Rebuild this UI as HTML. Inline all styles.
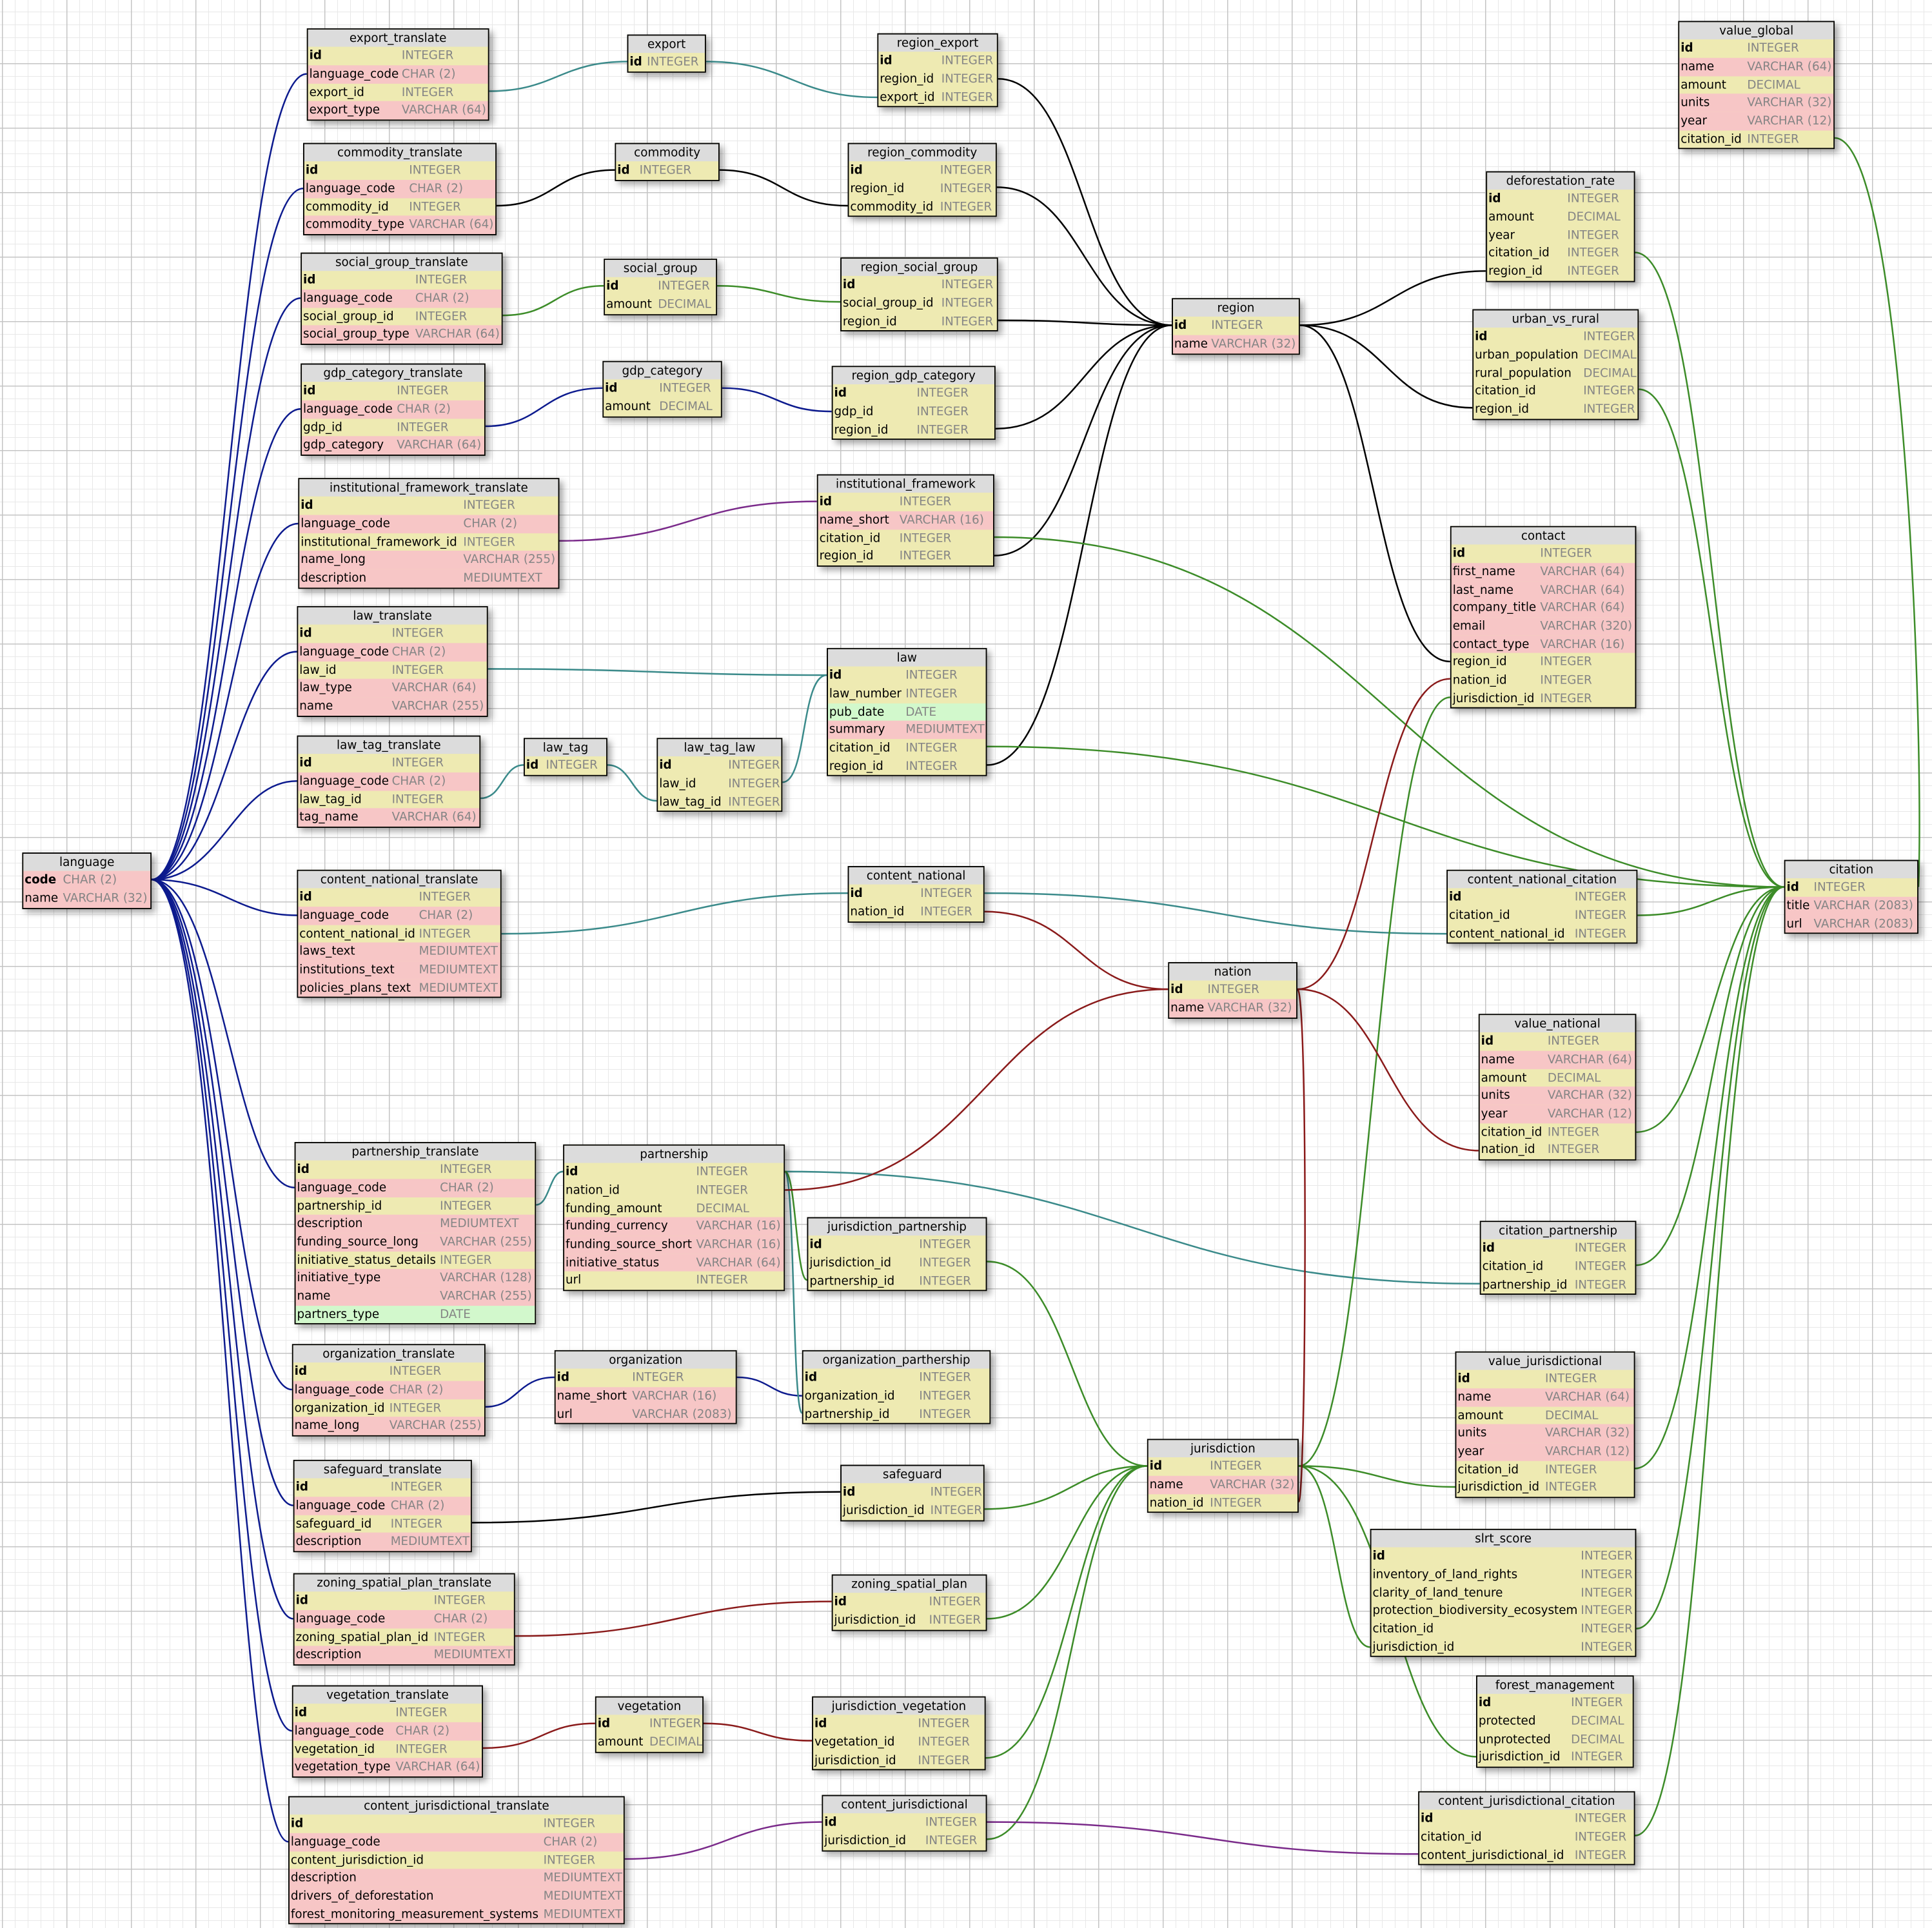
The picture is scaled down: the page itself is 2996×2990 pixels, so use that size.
<!DOCTYPE html>
<html><head><meta charset="utf-8">
<style>
html,body{margin:0;padding:0}
body{width:2996px;height:2990px;overflow:hidden;background-color:#fff;
background-image:
linear-gradient(to right,#c4c4c4 1.5px,transparent 1.5px),
linear-gradient(to bottom,#c4c4c4 1.5px,transparent 1.5px),
linear-gradient(to right,#e8e8e8 1px,transparent 1px),
linear-gradient(to bottom,#e8e8e8 1px,transparent 1px);
background-size:100px 100px,100px 100px,20px 20px,20px 20px;
background-position:3px -2px,3px -2px,3px -2px,3px -2px;}
#s{position:absolute;left:0;top:0;width:1568px;height:1565px;transform:scale(1.9107,1.9105);transform-origin:0 0}
svg{position:absolute;left:0;top:0}
path{fill:none;stroke-width:1.3}
.t{position:absolute;box-sizing:border-box;border:1px solid #000;border-width:1.5px 1.5px 1.5px 1px;background:#eeeab2;box-shadow:3px 3px 5px rgba(0,0,0,.35);font:9.6px "DejaVu Sans","Liberation Sans",sans-serif;color:#000;white-space:nowrap}
.t b{display:block;height:14.2px;line-height:15.6px;text-align:center;background:#dcdcdc;font-weight:normal;overflow:hidden}
.t p{margin:0;height:14.7px;line-height:16.4px;position:relative;padding-left:1px;overflow:hidden}
.t p s{text-decoration:none;position:absolute;left:var(--o);top:0;color:#858585}
.y{background:#eeeab2}.p{background:#f7c6c6}.g{background:#d2f8cc}
.k i{font-weight:bold}
.t i{font-style:normal}
</style></head><body><div id="s">
<svg width="1568" height="1565" viewBox="0 0 1568 1565">
<g stroke="#0c1a8e">
<path d="M123 714 C180 714 190 60 249 60"/>
<path d="M123 714 C180 714 190 153 246 153"/>
<path d="M123 714 C180 714 190 242 244 242"/>
<path d="M123 714 C180 714 190 332 244 332"/>
<path d="M123 714 C180 714 190 425 242 425"/>
<path d="M123 714 C180 714 190 529 241 529"/>
<path d="M123 714 C180 714 190 634 241 634"/>
<path d="M123 714 C180 714 190 743 241 743"/>
<path d="M123 714 C180 714 190 964 239 964"/>
<path d="M123 714 C180 714 190 1128 237 1128"/>
<path d="M123 714 C180 714 190 1222 238 1222"/>
<path d="M123 714 C180 714 190 1314 238 1314"/>
<path d="M123 714 C180 714 190 1405 237 1405"/>
<path d="M123 714 C180 714 190 1495 234 1495"/>
<path d="M394 346 C440 346 440 315 489 315"/>
<path d="M586 315 C630 315 630 334 675 334"/>
<path d="M394 1142 C420 1142 420 1118 450 1118"/>
<path d="M598 1118 C625 1118 625 1133 651 1133"/>
</g>
<g stroke="#3a8a8a">
<path d="M397 74 C450 74 455 50 509 50"/>
<path d="M573 50 C640 50 645 79 712 79"/>
<path d="M396 543 C530 543 540 548 671 548"/>
<path d="M390 648 C408 648 408 621 425 621"/>
<path d="M493 621 C513 621 513 650 533 650"/>
<path d="M635 635 C655 635 650 548 671 548"/>
<path d="M407 758 C550 758 550 725 688 725"/>
<path d="M799 725 C990 725 990 758 1174 758"/>
<path d="M435 978 C446 978 446 951 457 951"/>
<path d="M637 951 C920 951 920 1042 1201 1042"/>
<path d="M637 951 C645 951 643 1147 651 1147"/>
</g>
<g stroke="#000">
<path d="M403 167 C450 167 450 138 499 138"/>
<path d="M584 138 C635 138 635 167 688 167"/>
<path d="M810 64 C880 64 880 264 951 264"/>
<path d="M809 152 C880 152 880 264 951 264"/>
<path d="M810 260 C880 260 880 264 951 264"/>
<path d="M808 348 C880 348 880 264 951 264"/>
<path d="M807 451 C880 451 880 264 951 264"/>
<path d="M801 621 C880 621 880 264 951 264"/>
<path d="M1055 264 C1130 264 1130 220 1206 220"/>
<path d="M1055 264 C1125 264 1125 331 1195 331"/>
<path d="M1055 264 C1115 264 1115 537 1177 537"/>
<path d="M383 1236 C530 1236 530 1211 682 1211"/>
</g>
<g stroke="#3c8c28">
<path d="M408 256 C450 256 450 232 490 232"/>
<path d="M582 232 C630 232 630 245 682 245"/>
<path d="M807 436 C1130 436 1130 720 1448 720"/>
<path d="M801 606 C1130 606 1130 720 1448 720"/>
<path d="M1489 112 C1545 112 1562 600 1557 720"/>
<path d="M1327 205 C1390 205 1390 720 1448 720"/>
<path d="M1330 316 C1390 316 1390 720 1448 720"/>
<path d="M1329 743 C1390 743 1390 720 1448 720"/>
<path d="M1328 919 C1390 919 1390 720 1448 720"/>
<path d="M1328 1027 C1390 1027 1390 720 1448 720"/>
<path d="M1327 1192 C1390 1192 1390 720 1448 720"/>
<path d="M1328 1322 C1390 1322 1390 720 1448 720"/>
<path d="M1327 1490 C1390 1490 1390 720 1448 720"/>
<path d="M1177 566 C1115 566 1115 1190 1054 1190"/>
<path d="M801 1024 C870 1024 870 1190 931 1190"/>
<path d="M799 1225 C870 1225 870 1190 931 1190"/>
<path d="M801 1314 C870 1314 870 1190 931 1190"/>
<path d="M800 1427 C870 1427 870 1190 931 1190"/>
<path d="M801 1493 C870 1493 870 1190 931 1190"/>
<path d="M1054 1190 C1120 1190 1120 1207 1181 1207"/>
<path d="M1054 1190 C1085 1190 1085 1337 1112 1337"/>
<path d="M1054 1190 C1130 1190 1130 1426 1198 1426"/>
<path d="M637 951 C646 951 646 1039 655 1039"/>
</g>
<g stroke="#7a2a8a">
<path d="M454 439 C560 439 560 407 663 407"/>
<path d="M507 1509 C590 1509 590 1479 667 1479"/>
<path d="M801 1479 C980 1479 980 1505 1151 1505"/>
</g>
<g stroke="#8a1a1a">
<path d="M799 740 C875 740 875 803 948 803"/>
<path d="M637 966 C800 966 800 803 948 803"/>
<path d="M1053 803 C1115 803 1115 551 1177 551"/>
<path d="M1053 803 C1125 803 1125 934 1200 934"/>
<path d="M1053 803 C1062 803 1060 1219 1054 1219"/>
<path d="M418 1328 C550 1328 550 1300 675 1300"/>
<path d="M392 1419 C440 1419 440 1399 483 1399"/>
<path d="M571 1399 C615 1399 615 1413 659 1413"/>
</g>
</svg>

<div class="t" style="left:249px;top:23px;width:148px;--o:76px"><b>export_translate</b><p class="y k"><i>id</i><s>INTEGER</s></p><p class="p"><i>language_code</i><s>CHAR (2)</s></p><p class="y"><i>export_id</i><s>INTEGER</s></p><p class="p"><i>export_type</i><s>VARCHAR (64)</s></p></div>
<div class="t" style="left:509px;top:28px;width:64px;--o:15px"><b>export</b><p class="y k"><i>id</i><s>INTEGER</s></p></div>
<div class="t" style="left:712px;top:27px;width:98px;--o:51px"><b>region_export</b><p class="y k"><i>id</i><s>INTEGER</s></p><p class="y"><i>region_id</i><s>INTEGER</s></p><p class="y"><i>export_id</i><s>INTEGER</s></p></div>
<div class="t" style="left:1362px;top:17px;width:127px;--o:55px"><b>value_global</b><p class="y k"><i>id</i><s>INTEGER</s></p><p class="p"><i>name</i><s>VARCHAR (64)</s></p><p class="y"><i>amount</i><s>DECIMAL</s></p><p class="p"><i>units</i><s>VARCHAR (32)</s></p><p class="p"><i>year</i><s>VARCHAR (12)</s></p><p class="y"><i>citation_id</i><s>INTEGER</s></p></div>
<div class="t" style="left:246px;top:116px;width:157px;--o:85px"><b>commodity_translate</b><p class="y k"><i>id</i><s>INTEGER</s></p><p class="p"><i>language_code</i><s>CHAR (2)</s></p><p class="y"><i>commodity_id</i><s>INTEGER</s></p><p class="p"><i>commodity_type</i><s>VARCHAR (64)</s></p></div>
<div class="t" style="left:499px;top:116px;width:85px;--o:19px"><b>commodity</b><p class="y k"><i>id</i><s>INTEGER</s></p></div>
<div class="t" style="left:688px;top:116px;width:121px;--o:74px"><b>region_commodity</b><p class="y k"><i>id</i><s>INTEGER</s></p><p class="y"><i>region_id</i><s>INTEGER</s></p><p class="y"><i>commodity_id</i><s>INTEGER</s></p></div>
<div class="t" style="left:1206px;top:139px;width:121px;--o:65px"><b>deforestation_rate</b><p class="y k"><i>id</i><s>INTEGER</s></p><p class="y"><i>amount</i><s>DECIMAL</s></p><p class="y"><i>year</i><s>INTEGER</s></p><p class="y"><i>citation_id</i><s>INTEGER</s></p><p class="y"><i>region_id</i><s>INTEGER</s></p></div>
<div class="t" style="left:244px;top:205px;width:164px;--o:92px"><b>social_group_translate</b><p class="y k"><i>id</i><s>INTEGER</s></p><p class="p"><i>language_code</i><s>CHAR (2)</s></p><p class="y"><i>social_group_id</i><s>INTEGER</s></p><p class="p"><i>social_group_type</i><s>VARCHAR (64)</s></p></div>
<div class="t" style="left:490px;top:210px;width:92px;--o:43px"><b>social_group</b><p class="y k"><i>id</i><s>INTEGER</s></p><p class="y"><i>amount</i><s>DECIMAL</s></p></div>
<div class="t" style="left:682px;top:209px;width:128px;--o:81px"><b>region_social_group</b><p class="y k"><i>id</i><s>INTEGER</s></p><p class="y"><i>social_group_id</i><s>INTEGER</s></p><p class="y"><i>region_id</i><s>INTEGER</s></p></div>
<div class="t" style="left:951px;top:242px;width:104px;--o:31px"><b>region</b><p class="y k"><i>id</i><s>INTEGER</s></p><p class="p"><i>name</i><s>VARCHAR (32)</s></p></div>
<div class="t" style="left:1195px;top:251px;width:135px;--o:89px"><b>urban_vs_rural</b><p class="y k"><i>id</i><s>INTEGER</s></p><p class="y"><i>urban_population</i><s>DECIMAL</s></p><p class="y"><i>rural_population</i><s>DECIMAL</s></p><p class="y"><i>citation_id</i><s>INTEGER</s></p><p class="y"><i>region_id</i><s>INTEGER</s></p></div>
<div class="t" style="left:244px;top:295px;width:150px;--o:77px"><b>gdp_category_translate</b><p class="y k"><i>id</i><s>INTEGER</s></p><p class="p"><i>language_code</i><s>CHAR (2)</s></p><p class="y"><i>gdp_id</i><s>INTEGER</s></p><p class="p"><i>gdp_category</i><s>VARCHAR (64)</s></p></div>
<div class="t" style="left:489px;top:293px;width:97px;--o:45px"><b>gdp_category</b><p class="y k"><i>id</i><s>INTEGER</s></p><p class="y"><i>amount</i><s>DECIMAL</s></p></div>
<div class="t" style="left:675px;top:297px;width:133px;--o:68px"><b>region_gdp_category</b><p class="y k"><i>id</i><s>INTEGER</s></p><p class="y"><i>gdp_id</i><s>INTEGER</s></p><p class="y"><i>region_id</i><s>INTEGER</s></p></div>
<div class="t" style="left:242px;top:388px;width:212px;--o:133px"><b>institutional_framework_translate</b><p class="y k"><i>id</i><s>INTEGER</s></p><p class="p"><i>language_code</i><s>CHAR (2)</s></p><p class="y"><i>institutional_framework_id</i><s>INTEGER</s></p><p class="p"><i>name_long</i><s>VARCHAR (255)</s></p><p class="p"><i>description</i><s>MEDIUMTEXT</s></p></div>
<div class="t" style="left:663px;top:385px;width:144px;--o:66px"><b>institutional_framework</b><p class="y k"><i>id</i><s>INTEGER</s></p><p class="p"><i>name_short</i><s>VARCHAR (16)</s></p><p class="y"><i>citation_id</i><s>INTEGER</s></p><p class="y"><i>region_id</i><s>INTEGER</s></p></div>
<div class="t" style="left:1177px;top:427px;width:151px;--o:72px"><b>contact</b><p class="y k"><i>id</i><s>INTEGER</s></p><p class="p"><i>first_name</i><s>VARCHAR (64)</s></p><p class="p"><i>last_name</i><s>VARCHAR (64)</s></p><p class="p"><i>company_title</i><s>VARCHAR (64)</s></p><p class="p"><i>email</i><s>VARCHAR (320)</s></p><p class="p"><i>contact_type</i><s>VARCHAR (16)</s></p><p class="y"><i>region_id</i><s>INTEGER</s></p><p class="y"><i>nation_id</i><s>INTEGER</s></p><p class="y"><i>jurisdiction_id</i><s>INTEGER</s></p></div>
<div class="t" style="left:241px;top:492px;width:155px;--o:76px"><b>law_translate</b><p class="y k"><i>id</i><s>INTEGER</s></p><p class="p"><i>language_code</i><s>CHAR (2)</s></p><p class="y"><i>law_id</i><s>INTEGER</s></p><p class="p"><i>law_type</i><s>VARCHAR (64)</s></p><p class="p"><i>name</i><s>VARCHAR (255)</s></p></div>
<div class="t" style="left:671px;top:526px;width:130px;--o:63px"><b>law</b><p class="y k"><i>id</i><s>INTEGER</s></p><p class="y"><i>law_number</i><s>INTEGER</s></p><p class="g"><i>pub_date</i><s>DATE</s></p><p class="p"><i>summary</i><s>MEDIUMTEXT</s></p><p class="y"><i>citation_id</i><s>INTEGER</s></p><p class="y"><i>region_id</i><s>INTEGER</s></p></div>
<div class="t" style="left:241px;top:597px;width:149px;--o:76px"><b>law_tag_translate</b><p class="y k"><i>id</i><s>INTEGER</s></p><p class="p"><i>language_code</i><s>CHAR (2)</s></p><p class="y"><i>law_tag_id</i><s>INTEGER</s></p><p class="p"><i>tag_name</i><s>VARCHAR (64)</s></p></div>
<div class="t" style="left:425px;top:599px;width:68px;--o:17px"><b>law_tag</b><p class="y k"><i>id</i><s>INTEGER</s></p></div>
<div class="t" style="left:533px;top:599px;width:102px;--o:57px"><b>law_tag_law</b><p class="y k"><i>id</i><s>INTEGER</s></p><p class="y"><i>law_id</i><s>INTEGER</s></p><p class="y"><i>law_tag_id</i><s>INTEGER</s></p></div>
<div class="t" style="left:18px;top:692px;width:105px;--o:32px"><b>language</b><p class="p k"><i>code</i><s>CHAR (2)</s></p><p class="p"><i>name</i><s>VARCHAR (32)</s></p></div>
<div class="t" style="left:1448px;top:698px;width:109px;--o:23px"><b>citation</b><p class="y k"><i>id</i><s>INTEGER</s></p><p class="p"><i>title</i><s>VARCHAR (2083)</s></p><p class="p"><i>url</i><s>VARCHAR (2083)</s></p></div>
<div class="t" style="left:241px;top:706px;width:166px;--o:98px"><b>content_national_translate</b><p class="y k"><i>id</i><s>INTEGER</s></p><p class="p"><i>language_code</i><s>CHAR (2)</s></p><p class="y"><i>content_national_id</i><s>INTEGER</s></p><p class="p"><i>laws_text</i><s>MEDIUMTEXT</s></p><p class="p"><i>institutions_text</i><s>MEDIUMTEXT</s></p><p class="p"><i>policies_plans_text</i><s>MEDIUMTEXT</s></p></div>
<div class="t" style="left:688px;top:703px;width:111px;--o:58px"><b>content_national</b><p class="y k"><i>id</i><s>INTEGER</s></p><p class="y"><i>nation_id</i><s>INTEGER</s></p></div>
<div class="t" style="left:1174px;top:706px;width:155px;--o:103px"><b>content_national_citation</b><p class="y k"><i>id</i><s>INTEGER</s></p><p class="y"><i>citation_id</i><s>INTEGER</s></p><p class="y"><i>content_national_id</i><s>INTEGER</s></p></div>
<div class="t" style="left:948px;top:781px;width:105px;--o:31px"><b>nation</b><p class="y k"><i>id</i><s>INTEGER</s></p><p class="p"><i>name</i><s>VARCHAR (32)</s></p></div>
<div class="t" style="left:1200px;top:823px;width:128px;--o:55px"><b>value_national</b><p class="y k"><i>id</i><s>INTEGER</s></p><p class="p"><i>name</i><s>VARCHAR (64)</s></p><p class="y"><i>amount</i><s>DECIMAL</s></p><p class="p"><i>units</i><s>VARCHAR (32)</s></p><p class="p"><i>year</i><s>VARCHAR (12)</s></p><p class="y"><i>citation_id</i><s>INTEGER</s></p><p class="y"><i>nation_id</i><s>INTEGER</s></p></div>
<div class="t" style="left:239px;top:927px;width:196px;--o:117px"><b>partnership_translate</b><p class="y k"><i>id</i><s>INTEGER</s></p><p class="p"><i>language_code</i><s>CHAR (2)</s></p><p class="y"><i>partnership_id</i><s>INTEGER</s></p><p class="p"><i>description</i><s>MEDIUMTEXT</s></p><p class="p"><i>funding_source_long</i><s>VARCHAR (255)</s></p><p class="y"><i>initiative_status_details</i><s>INTEGER</s></p><p class="p"><i>initiative_type</i><s>VARCHAR (128)</s></p><p class="p"><i>name</i><s>VARCHAR (255)</s></p><p class="g"><i>partners_type</i><s>DATE</s></p></div>
<div class="t" style="left:457px;top:929px;width:180px;--o:107px"><b>partnership</b><p class="y k"><i>id</i><s>INTEGER</s></p><p class="y"><i>nation_id</i><s>INTEGER</s></p><p class="y"><i>funding_amount</i><s>DECIMAL</s></p><p class="p"><i>funding_currency</i><s>VARCHAR (16)</s></p><p class="p"><i>funding_source_short</i><s>VARCHAR (16)</s></p><p class="p"><i>initiative_status</i><s>VARCHAR (64)</s></p><p class="y"><i>url</i><s>INTEGER</s></p></div>
<div class="t" style="left:655px;top:988px;width:146px;--o:90px"><b>jurisdiction_partnership</b><p class="y k"><i>id</i><s>INTEGER</s></p><p class="y"><i>jurisdiction_id</i><s>INTEGER</s></p><p class="y"><i>partnership_id</i><s>INTEGER</s></p></div>
<div class="t" style="left:1201px;top:991px;width:127px;--o:76px"><b>citation_partnership</b><p class="y k"><i>id</i><s>INTEGER</s></p><p class="y"><i>citation_id</i><s>INTEGER</s></p><p class="y"><i>partnership_id</i><s>INTEGER</s></p></div>
<div class="t" style="left:237px;top:1091px;width:157px;--o:78px"><b>organization_translate</b><p class="y k"><i>id</i><s>INTEGER</s></p><p class="p"><i>language_code</i><s>CHAR (2)</s></p><p class="y"><i>organization_id</i><s>INTEGER</s></p><p class="p"><i>name_long</i><s>VARCHAR (255)</s></p></div>
<div class="t" style="left:450px;top:1096px;width:148px;--o:62px"><b>organization</b><p class="y k"><i>id</i><s>INTEGER</s></p><p class="p"><i>name_short</i><s>VARCHAR (16)</s></p><p class="p"><i>url</i><s>VARCHAR (2083)</s></p></div>
<div class="t" style="left:651px;top:1096px;width:153px;--o:94px"><b>organization_parthership</b><p class="y k"><i>id</i><s>INTEGER</s></p><p class="y"><i>organization_id</i><s>INTEGER</s></p><p class="y"><i>partnership_id</i><s>INTEGER</s></p></div>
<div class="t" style="left:1181px;top:1097px;width:146px;--o:72px"><b>value_jurisdictional</b><p class="y k"><i>id</i><s>INTEGER</s></p><p class="p"><i>name</i><s>VARCHAR (64)</s></p><p class="y"><i>amount</i><s>DECIMAL</s></p><p class="p"><i>units</i><s>VARCHAR (32)</s></p><p class="p"><i>year</i><s>VARCHAR (12)</s></p><p class="y"><i>citation_id</i><s>INTEGER</s></p><p class="y"><i>jurisdiction_id</i><s>INTEGER</s></p></div>
<div class="t" style="left:238px;top:1185px;width:145px;--o:78px"><b>safeguard_translate</b><p class="y k"><i>id</i><s>INTEGER</s></p><p class="p"><i>language_code</i><s>CHAR (2)</s></p><p class="y"><i>safeguard_id</i><s>INTEGER</s></p><p class="p"><i>description</i><s>MEDIUMTEXT</s></p></div>
<div class="t" style="left:682px;top:1189px;width:117px;--o:72px"><b>safeguard</b><p class="y k"><i>id</i><s>INTEGER</s></p><p class="y"><i>jurisdiction_id</i><s>INTEGER</s></p></div>
<div class="t" style="left:931px;top:1168px;width:123px;--o:50px"><b>jurisdiction</b><p class="y k"><i>id</i><s>INTEGER</s></p><p class="p"><i>name</i><s>VARCHAR (32)</s></p><p class="y"><i>nation_id</i><s>INTEGER</s></p></div>
<div class="t" style="left:1112px;top:1241px;width:216px;--o:170px"><b>slrt_score</b><p class="y k"><i>id</i><s>INTEGER</s></p><p class="y"><i>inventory_of_land_rights</i><s>INTEGER</s></p><p class="y"><i>clarity_of_land_tenure</i><s>INTEGER</s></p><p class="y"><i>protection_biodiversity_ecosystem</i><s>INTEGER</s></p><p class="y"><i>citation_id</i><s>INTEGER</s></p><p class="y"><i>jurisdiction_id</i><s>INTEGER</s></p></div>
<div class="t" style="left:238px;top:1277px;width:180px;--o:113px"><b>zoning_spatial_plan_translate</b><p class="y k"><i>id</i><s>INTEGER</s></p><p class="p"><i>language_code</i><s>CHAR (2)</s></p><p class="y"><i>zoning_spatial_plan_id</i><s>INTEGER</s></p><p class="p"><i>description</i><s>MEDIUMTEXT</s></p></div>
<div class="t" style="left:675px;top:1278px;width:126px;--o:78px"><b>zoning_spatial_plan</b><p class="y k"><i>id</i><s>INTEGER</s></p><p class="y"><i>jurisdiction_id</i><s>INTEGER</s></p></div>
<div class="t" style="left:1198px;top:1360px;width:128px;--o:76px"><b>forest_management</b><p class="y k"><i>id</i><s>INTEGER</s></p><p class="y"><i>protected</i><s>DECIMAL</s></p><p class="y"><i>unprotected</i><s>DECIMAL</s></p><p class="y"><i>jurisdiction_id</i><s>INTEGER</s></p></div>
<div class="t" style="left:237px;top:1368px;width:155px;--o:83px"><b>vegetation_translate</b><p class="y k"><i>id</i><s>INTEGER</s></p><p class="p"><i>language_code</i><s>CHAR (2)</s></p><p class="y"><i>vegetation_id</i><s>INTEGER</s></p><p class="p"><i>vegetation_type</i><s>VARCHAR (64)</s></p></div>
<div class="t" style="left:483px;top:1377px;width:88px;--o:43px"><b>vegetation</b><p class="y k"><i>id</i><s>INTEGER</s></p><p class="y"><i>amount</i><s>DECIMAL</s></p></div>
<div class="t" style="left:659px;top:1377px;width:141px;--o:85px"><b>jurisdiction_vegetation</b><p class="y k"><i>id</i><s>INTEGER</s></p><p class="y"><i>vegetation_id</i><s>INTEGER</s></p><p class="y"><i>jurisdiction_id</i><s>INTEGER</s></p></div>
<div class="t" style="left:234px;top:1458px;width:273px;--o:206px"><b>content_jurisdictional_translate</b><p class="y k"><i>id</i><s>INTEGER</s></p><p class="p"><i>language_code</i><s>CHAR (2)</s></p><p class="y"><i>content_jurisdiction_id</i><s>INTEGER</s></p><p class="p"><i>description</i><s>MEDIUMTEXT</s></p><p class="p"><i>drivers_of_deforestation</i><s>MEDIUMTEXT</s></p><p class="p"><i>forest_monitoring_measurement_systems</i><s>MEDIUMTEXT</s></p></div>
<div class="t" style="left:667px;top:1457px;width:134px;--o:83px"><b>content_jurisdictional</b><p class="y k"><i>id</i><s>INTEGER</s></p><p class="y"><i>jurisdiction_id</i><s>INTEGER</s></p></div>
<div class="t" style="left:1151px;top:1454px;width:176px;--o:126px"><b>content_jurisdictional_citation</b><p class="y k"><i>id</i><s>INTEGER</s></p><p class="y"><i>citation_id</i><s>INTEGER</s></p><p class="y"><i>content_jurisdictional_id</i><s>INTEGER</s></p></div>
</div></body></html>
